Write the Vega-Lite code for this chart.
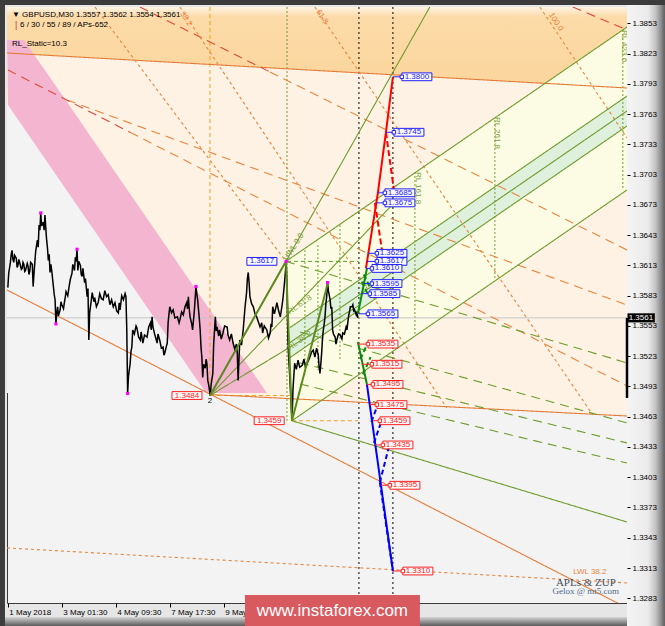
{
"$schema":"https://vega.github.io/schema/vega-lite/v6.json",
"width":620,"height":596,
"autosize":{"type":"none"},
"padding":{"left":7,"top":7,"right":38,"bottom":23},
"background":"#e6e6e6",
"config":{"view":{"fill":"#f3f3f3","stroke":"#3a3a3a","strokeWidth":1},"text":{"font":"Liberation Sans"}},
"datasets":{
"reg":[
{"g":"orange","b":0,"p":1.38692,"p2":1.38236},{"g":"orange","b":735,"p":1.38692,"p2":1.37889},
{"g":"salmon","b":638,"p":1.37934,"p2":1.37934},{"g":"salmon","b":735,"p":1.38493,"p2":1.37889},
{"g":"cream","b":0,"p":1.38236,"p2":1.34961},{"g":"cream","b":735,"p":1.37889,"p2":1.34637},
{"g":"yellow","b":331.9,"p":1.36171,"p2":1.34554},{"g":"yellow","b":735,"p":1.38493,"p2":1.36877},
{"g":"band","b":335.4,"p":1.35513,"p2":1.35216},{"g":"band","b":735,"p":1.37809,"p2":1.37512}
],
"hreg":[
{"g":"gray","p":1.3772,"b":0,"b2":1.2},{"g":"gray","p":1.34865,"b":0,"b2":235.9},
{"g":"pink","p":1.38364,"b":0,"b2":20.1},{"g":"pink","p":1.3772,"b":1.2,"b2":73.5},{"g":"pink","p":1.34865,"b":235.9,"b2":308.2}
],
"segs":[
{"g":"oSolid","id":"A","b":0,"p":1.38236},{"g":"oSolid","id":"A","b":735,"p":1.37889},
{"g":"oSolid","id":"B","b":240.6,"p":1.3485},{"g":"oSolid","id":"B","b":735,"p":1.34637},
{"g":"oSolid","id":"C","b":0,"p":1.35886},{"g":"oSolid","id":"C","b":735,"p":1.32734},
{"g":"oDash","id":"L1o","b":145.8,"p":1.3745},{"g":"oDash","id":"L1o","b":735,"p":1.34935},
{"g":"oDash","id":"L2o","b":311.7,"p":1.38048},{"g":"oDash","id":"L2o","b":735,"p":1.36283},
{"g":"oDash","id":"L3","b":71.1,"p":1.3777},{"g":"oDash","id":"L3","b":735,"p":1.35738},
{"g":"rDash","id":"L1r","b":1.2,"p":1.38067},{"g":"rDash","id":"L1r","b":145.8,"p":1.3745},
{"g":"rDash","id":"L2r","b":157.6,"p":1.38692},{"g":"rDash","id":"L2r","b":311.7,"p":1.38048},
{"g":"rDash","id":"L5","b":670.8,"p":1.38692},{"g":"rDash","id":"L5","b":735,"p":1.38464},
{"g":"oDot","id":"D1","b":104.3,"p":1.38692},{"g":"oDot","id":"D1","b":330.7,"p":1.3617},
{"g":"oDot","id":"D2","b":205,"p":1.38692},{"g":"oDot","id":"D2","b":521.5,"p":1.34716},
{"g":"oDot","id":"D3","b":365,"p":1.38692},{"g":"oDot","id":"D3","b":694.5,"p":1.34647},
{"g":"oDot","id":"D4","b":631.7,"p":1.38692},{"g":"oDot","id":"D4","b":735,"p":1.37393},
{"g":"oDot","id":"LWL","b":0,"p":1.33329},{"g":"oDot","id":"LWL","b":735,"p":1.32982},
{"g":"gSolid","id":"S1","b":240.6,"p":1.3484},{"g":"gSolid","id":"S1","b":501.3,"p":1.38692},
{"g":"gSolid","id":"S2","b":240.6,"p":1.3484},{"g":"gSolid","id":"S2","b":459.9,"p":1.36759},
{"g":"gSolid","id":"S3","b":240.6,"p":1.3484},{"g":"gSolid","id":"S3","b":418.4,"p":1.35738},
{"g":"gSolid","id":"U","b":330.7,"p":1.3617},{"g":"gSolid","id":"U","b":735,"p":1.38493},
{"g":"gSolid","id":"Lo","b":337.8,"p":1.3459},{"g":"gSolid","id":"Lo","b":735,"p":1.36878},
{"g":"gSolid","id":"BU","b":335.4,"p":1.35513},{"g":"gSolid","id":"BU","b":735,"p":1.37809},
{"g":"gSolid","id":"BM","b":335.4,"p":1.35365},{"g":"gSolid","id":"BM","b":735,"p":1.37661},
{"g":"gSolid","id":"BL","b":335.4,"p":1.35216},{"g":"gSolid","id":"BL","b":735,"p":1.37512},
{"g":"gSolid","id":"GS","b":337.8,"p":1.3459},{"g":"gSolid","id":"GS","b":735,"p":1.33586},
{"g":"gDash","id":"GD1","b":330.7,"p":1.3617},{"g":"gDash","id":"GD1","b":735,"p":1.35163},
{"g":"gDash","id":"GD2","b":347.3,"p":1.3547},{"g":"gDash","id":"GD2","b":735,"p":1.34568},
{"g":"gDash","id":"GD3","b":347.3,"p":1.35163},{"g":"gDash","id":"GD3","b":735,"p":1.3437},
{"g":"gDash","id":"GD4","b":347.3,"p":1.34954},{"g":"gDash","id":"GD4","b":735,"p":1.34171}
],
"segs2":[
{"g":"zup","id":"Z","b":240.6,"p":1.3484},{"g":"zup","id":"Z","b":330.7,"p":1.3617},{"g":"zup","id":"Z","b":337.8,"p":1.3459},{"g":"zup","id":"Z","b":380.5,"p":1.3596},
{"g":"fRed","id":"R1","b":425.5,"p":1.361},{"g":"fRed","id":"R1","b":439.7,"p":1.3685},{"g":"fRed","id":"R1","b":449.2,"p":1.3745},{"g":"fRed","id":"R1","b":457.5,"p":1.38},
{"g":"fRedD","id":"RD1","b":449.2,"p":1.3745},{"g":"fRedD","id":"RD1","b":458.7,"p":1.3688},
{"g":"fRedD","id":"RD2","b":436.2,"p":1.3675},{"g":"fRedD","id":"RD2","b":445.6,"p":1.3622},
{"g":"fGreen","id":"G1","b":416,"p":1.3565},{"g":"fGreen","id":"G1","b":426.7,"p":1.361},
{"g":"fGreen","id":"G2","b":416,"p":1.3537},{"g":"fGreen","id":"G2","b":426.7,"p":1.3495},
{"g":"fGreenD","id":"GD1","b":420.7,"p":1.3597},{"g":"fGreenD","id":"GD1","b":429,"p":1.3582},
{"g":"fGreenD","id":"GD2","b":423,"p":1.3604},{"g":"fGreenD","id":"GD2","b":431,"p":1.359},
{"g":"fGreenD","id":"GD3","b":419,"p":1.352},{"g":"fGreenD","id":"GD3","b":428,"p":1.3537},
{"g":"fGreenD","id":"GD4","b":422,"p":1.3505},{"g":"fGreenD","id":"GD4","b":431,"p":1.3522},
{"g":"fBlue","id":"B1","b":426.7,"p":1.3495},{"g":"fBlue","id":"B1","b":457.5,"p":1.331},
{"g":"fBlueD","id":"BD1","b":432,"p":1.3458},{"g":"fBlueD","id":"BD1","b":440,"p":1.3476},
{"g":"fBlueD","id":"BD2","b":435,"p":1.3437},{"g":"fBlueD","id":"BD2","b":444.5,"p":1.346},
{"g":"fBlueD","id":"BD3","b":442,"p":1.3398},{"g":"fBlueD","id":"BD3","b":452.7,"p":1.3433},
{"g":"fBlueD","id":"BD4","b":442,"p":1.3398},{"g":"fBlueD","id":"BD4","b":457.5,"p":1.331}
],
"vr":[
{"g":"yDash","b":240.6,"p":1.38692,"p2":1.3484},
{"g":"gDot","b":331.9,"p":1.38692,"p2":1.3459},
{"g":"kDot","b":417.2,"p":1.38692,"p2":1.32783},
{"g":"kDot","b":457.5,"p":1.38692,"p2":1.32783},
{"g":"gDot","b":353.2,"p":1.36283,"p2":1.35044},
{"g":"gDot","b":368.6,"p":1.36332,"p2":1.35093},
{"g":"gDot","b":394.7,"p":1.3653,"p2":1.35192},
{"g":"gDot","b":483.6,"p":1.37056,"p2":1.3543},
{"g":"gDot","b":578.4,"p":1.37571,"p2":1.36005},
{"g":"gDot","b":730.1,"p":1.38464,"p2":1.36878}
],
"hr":[
{"g":"gray","b":0,"b2":735,"p":1.3561},
{"g":"yDash","b":240.6,"b2":335.4,"p":1.3484},
{"g":"yDash","b":337.8,"b2":416,"p":1.3459},
{"g":"gShort","b":331.9,"b2":417,"p":1.3617}
],
"px":[
{"b":1,"p":1.3591},{"b":2,"p":1.3605},{"b":4,"p":1.3616},{"b":5,"p":1.3624},{"b":6,"p":1.3628},{"b":7,"p":1.3619},{"b":8,"p":1.3616},{"b":9,"p":1.3623},{"b":11,"p":1.362},{"b":12,"p":1.3611},{"b":13,"p":1.3613},{"b":14,"p":1.3619},{"b":15,"p":1.3616},{"b":17,"p":1.3609},{"b":18,"p":1.361},{"b":19,"p":1.3616},{"b":20,"p":1.3614},{"b":21,"p":1.3607},{"b":22,"p":1.3608},{"b":24,"p":1.3615},{"b":25,"p":1.3612},{"b":26,"p":1.3604},{"b":27,"p":1.3607},{"b":28,"p":1.3616},{"b":30,"p":1.3614},{"b":31,"p":1.3592},{"b":32,"p":1.3605},{"b":33,"p":1.3616},{"b":34,"p":1.3627},{"b":36,"p":1.3638},{"b":37,"p":1.3631},{"b":38,"p":1.3653},{"b":39,"p":1.3648},{"b":40,"p":1.3665},{"b":41,"p":1.3652},{"b":43,"p":1.3656},{"b":44,"p":1.3648},{"b":45,"p":1.3663},{"b":46,"p":1.365},{"b":47,"p":1.3638},{"b":48,"p":1.363},{"b":49,"p":1.3618},{"b":50,"p":1.3624},{"b":51,"p":1.3606},{"b":52,"p":1.3614},{"b":53,"p":1.3608},{"b":54,"p":1.36},{"b":55,"p":1.3592},{"b":56,"p":1.3584},{"b":57,"p":1.3579},{"b":58,"p":1.3555},{"b":59,"p":1.3566},{"b":60,"p":1.3572},{"b":61,"p":1.3563},{"b":63,"p":1.3569},{"b":64,"p":1.3577},{"b":65,"p":1.3574},{"b":67,"p":1.357},{"b":68,"p":1.3576},{"b":69,"p":1.3581},{"b":70,"p":1.3587},{"b":72,"p":1.3583},{"b":74,"p":1.3594},{"b":75,"p":1.3599},{"b":77,"p":1.3605},{"b":78,"p":1.3614},{"b":80,"p":1.3608},{"b":81,"p":1.3621},{"b":82,"p":1.3617},{"b":83,"p":1.3629},{"b":84,"p":1.3608},{"b":85,"p":1.3617},{"b":87,"p":1.3613},{"b":88,"p":1.3604},{"b":89,"p":1.3602},{"b":90,"p":1.361},{"b":92,"p":1.3596},{"b":93,"p":1.36},{"b":95,"p":1.3582},{"b":96,"p":1.359},{"b":97,"p":1.3539},{"b":98,"p":1.3566},{"b":100,"p":1.3579},{"b":101,"p":1.3586},{"b":103,"p":1.3577},{"b":104,"p":1.3581},{"b":106,"p":1.3572},{"b":108,"p":1.3576},{"b":110,"p":1.3585},{"b":112,"p":1.358},{"b":114,"p":1.3579},{"b":116,"p":1.3588},{"b":118,"p":1.3582},{"b":120,"p":1.3584},{"b":122,"p":1.3574},{"b":124,"p":1.3579},{"b":126,"p":1.3572},{"b":128,"p":1.3576},{"b":130,"p":1.3568},{"b":132,"p":1.3566},{"b":133,"p":1.3576},{"b":134,"p":1.3569},{"b":136,"p":1.3583},{"b":138,"p":1.3579},{"b":140,"p":1.3585},{"b":141,"p":1.3582},{"b":142,"p":1.3549},{"b":143,"p":1.3486},{"b":144,"p":1.3503},{"b":146,"p":1.3516},{"b":147,"p":1.3528},{"b":148,"p":1.3532},{"b":149,"p":1.3549},{"b":151,"p":1.3545},{"b":153,"p":1.3553},{"b":154,"p":1.3551},{"b":156,"p":1.3542},{"b":158,"p":1.3539},{"b":159,"p":1.3547},{"b":161,"p":1.3536},{"b":163,"p":1.3544},{"b":166,"p":1.3542},{"b":168,"p":1.3552},{"b":170,"p":1.3556},{"b":171,"p":1.3549},{"b":172,"p":1.3562},{"b":173,"p":1.3552},{"b":175,"p":1.3545},{"b":178,"p":1.3536},{"b":179,"p":1.3545},{"b":181,"p":1.3539},{"b":183,"p":1.3531},{"b":185,"p":1.3532},{"b":186,"p":1.3524},{"b":187,"p":1.3526},{"b":189,"p":1.3533},{"b":190,"p":1.3536},{"b":191,"p":1.3556},{"b":192,"p":1.3565},{"b":193,"p":1.3572},{"b":195,"p":1.3566},{"b":197,"p":1.3569},{"b":199,"p":1.3561},{"b":202,"p":1.3562},{"b":204,"p":1.3556},{"b":205,"p":1.3559},{"b":207,"p":1.3567},{"b":209,"p":1.3564},{"b":211,"p":1.3572},{"b":213,"p":1.3576},{"b":214,"p":1.357},{"b":215,"p":1.3582},{"b":216,"p":1.357},{"b":217,"p":1.3562},{"b":219,"p":1.3555},{"b":220,"p":1.3549},{"b":222,"p":1.3567},{"b":224,"p":1.3592},{"b":225,"p":1.3585},{"b":226,"p":1.3579},{"b":228,"p":1.356},{"b":229,"p":1.3549},{"b":230,"p":1.3532},{"b":231,"p":1.3522},{"b":232,"p":1.3502},{"b":233,"p":1.3515},{"b":235,"p":1.3511},{"b":236,"p":1.352},{"b":237,"p":1.3516},{"b":238,"p":1.3499},{"b":239,"p":1.3495},{"b":241,"p":1.3484},{"b":242,"p":1.3495},{"b":244,"p":1.3506},{"b":245,"p":1.3535},{"b":247,"p":1.3562},{"b":248,"p":1.3548},{"b":249,"p":1.3552},{"b":251,"p":1.3543},{"b":252,"p":1.3549},{"b":254,"p":1.354},{"b":256,"p":1.3546},{"b":258,"p":1.3553},{"b":261,"p":1.3552},{"b":262,"p":1.3544},{"b":264,"p":1.3539},{"b":266,"p":1.3545},{"b":268,"p":1.3536},{"b":270,"p":1.353},{"b":272,"p":1.3535},{"b":273,"p":1.3526},{"b":274,"p":1.3499},{"b":275,"p":1.352},{"b":276,"p":1.3539},{"b":278,"p":1.3534},{"b":280,"p":1.3549},{"b":282,"p":1.357},{"b":284,"p":1.3586},{"b":285,"p":1.36},{"b":286,"p":1.3606},{"b":287,"p":1.3596},{"b":288,"p":1.3582},{"b":290,"p":1.3575},{"b":292,"p":1.3572},{"b":294,"p":1.3565},{"b":296,"p":1.3562},{"b":298,"p":1.3557},{"b":300,"p":1.3552},{"b":302,"p":1.3556},{"b":303,"p":1.3546},{"b":305,"p":1.3553},{"b":308,"p":1.3549},{"b":310,"p":1.3541},{"b":312,"p":1.3546},{"b":313,"p":1.3555},{"b":314,"p":1.3552},{"b":315,"p":1.3572},{"b":317,"p":1.3565},{"b":320,"p":1.3576},{"b":322,"p":1.3568},{"b":324,"p":1.3562},{"b":326,"p":1.3573},{"b":327,"p":1.3579},{"b":329,"p":1.3596},{"b":330,"p":1.3606},{"b":331,"p":1.3617},{"b":332,"p":1.3589},{"b":333,"p":1.3539},{"b":334,"p":1.352},{"b":335,"p":1.3506},{"b":336,"p":1.349},{"b":337,"p":1.3472},{"b":338,"p":1.3459},{"b":339,"p":1.349},{"b":341,"p":1.3516},{"b":343,"p":1.351},{"b":345,"p":1.3519},{"b":347,"p":1.3512},{"b":350,"p":1.3514},{"b":352,"p":1.352},{"b":354,"p":1.3512},{"b":356,"p":1.3516},{"b":359,"p":1.3522},{"b":361,"p":1.3527},{"b":363,"p":1.3529},{"b":365,"p":1.3522},{"b":367,"p":1.3531},{"b":369,"p":1.3524},{"b":370,"p":1.3512},{"b":371,"p":1.3506},{"b":372,"p":1.3515},{"b":373,"p":1.3526},{"b":374,"p":1.354},{"b":375,"p":1.3549},{"b":376,"p":1.3555},{"b":377,"p":1.3562},{"b":378,"p":1.3575},{"b":379,"p":1.3582},{"b":380,"p":1.3596},{"b":381,"p":1.3588},{"b":383,"p":1.3579},{"b":384,"p":1.357},{"b":385,"p":1.3572},{"b":386,"p":1.3549},{"b":387,"p":1.3545},{"b":389,"p":1.3542},{"b":390,"p":1.3535},{"b":391,"p":1.3539},{"b":393,"p":1.3545},{"b":395,"p":1.3544},{"b":397,"p":1.354},{"b":398,"p":1.3546},{"b":400,"p":1.3545},{"b":402,"p":1.3552},{"b":403,"p":1.3549},{"b":404,"p":1.3556},{"b":405,"p":1.3563},{"b":406,"p":1.3567},{"b":407,"p":1.3572},{"b":409,"p":1.3572},{"b":410,"p":1.3574},{"b":411,"p":1.3568},{"b":412,"p":1.3569},{"b":414,"p":1.3564},{"b":415,"p":1.3567},{"b":416,"p":1.3561}
],
"mg":[{"b":40,"p":1.3665},{"b":58,"p":1.3555},{"b":83,"p":1.3629},{"b":143,"p":1.3486},{"b":224,"p":1.3592},{"b":331,"p":1.3617},{"b":380,"p":1.3596}],
"lv":[
{"t":"1.3617","p":1.3617,"b":284.4,"cx":null,"s":"u"},
{"t":"1.3484","p":1.3484,"b":195.6,"cx":null,"s":"d"},
{"t":"1.3459","p":1.3459,"b":293,"cx":null,"s":"d"},
{"t":"1.3800","p":1.38,"b":468.1,"cx":457.5,"s":"u"},
{"t":"1.3745","p":1.3745,"b":458.7,"cx":449.2,"s":"u"},
{"t":"1.3685","p":1.3685,"b":448,"cx":439.7,"s":"u"},
{"t":"1.3675","p":1.3675,"b":448,"cx":437.3,"s":"u"},
{"t":"1.3625","p":1.3625,"b":438.5,"cx":427.9,"s":"u"},
{"t":"1.3617","p":1.3617,"b":438.5,"cx":426.7,"s":"u"},
{"t":"1.3610","p":1.361,"b":432.6,"cx":425.5,"s":"u"},
{"t":"1.3595","p":1.3595,"b":432.6,"cx":423.1,"s":"u"},
{"t":"1.3585","p":1.3585,"b":430.2,"cx":420.7,"s":"u"},
{"t":"1.3565","p":1.3565,"b":427.9,"cx":417.2,"s":"u"},
{"t":"1.3535","p":1.3535,"b":427.9,"cx":416,"s":"d"},
{"t":"1.3515","p":1.3515,"b":432.6,"cx":420.7,"s":"d"},
{"t":"1.3495","p":1.3495,"b":433.8,"cx":426.7,"s":"d"},
{"t":"1.3475","p":1.3475,"b":438.5,"cx":430.2,"s":"d"},
{"t":"1.3459","p":1.3459,"b":442.1,"cx":433.8,"s":"d"},
{"t":"1.3435","p":1.3435,"b":445.6,"cx":436.2,"s":"d"},
{"t":"1.3395","p":1.3395,"b":453.9,"cx":443.3,"s":"d"},
{"t":"1.3310","p":1.331,"b":469.3,"cx":457.5,"s":"d"}
],
"tx":[
{"k":"h","t":"▼ GBPUSD,M30  1.3557 1.3562 1.3554 1.3561","b":5.9,"p":1.38612},
{"k":"hr","t":"|","b":9.5,"p":1.38513},
{"k":"h","t":"6 / 30 / 55 / 89 / APs-652","b":15.4,"p":1.38513},
{"k":"h","t":"RL_Static=10.3","b":5.9,"p":1.38325},
{"k":"fib","t":"38.2","b":212.1,"p":1.38573},
{"k":"fib","t":"61.8","b":373.3,"p":1.38593},
{"k":"fib","t":"100.0","b":650.7,"p":1.38543},
{"k":"rl","t":"RL 161.8","b":487.1,"p":1.36897},
{"k":"rl","t":"RL 261.8","b":580.7,"p":1.37443},
{"k":"rl","t":"RL 423.6","b":731.3,"p":1.38305},
{"k":"rlb","t":"RL 61.8","b":347.3,"p":1.35738},
{"k":"rlb","t":"RL 38.2","b":347.3,"p":1.35381},
{"k":"uwl","t":"UWL 0.0","b":340.2,"p":1.36312},
{"k":"lwl","t":"LWL 38.2","b":690.9,"p":1.33091},
{"k":"piv","t":"2","b":240.6,"p":1.34786},
{"k":"sig1","t":"APLs & ZUP","b":686.2,"p":1.32981},
{"k":"sig2","t":"Gelox @ mt5.com","b":686.2,"p":1.32902},
{"k":"web","t":"www.instaforex.com","b":385.8,"p":1.32704},
{"k":"pb","t":"1.3561","b":737,"p":1.3561}
],
"dc":[
{"k":"right","b":735,"b2":780,"p":1.38761,"p2":1.32555},
{"k":"bottom","b":-9,"b2":735,"p":1.32645,"p2":1.32555},
{"k":"top","b":-9,"b2":780,"p":1.38761,"p2":1.38711},
{"k":"left","b":-9,"b2":-2.4,"p":1.38761,"p2":1.32555},
{"k":"banner","b":282.1,"b2":489.5,"p":1.32863,"p2":1.32555},
{"k":"pbox","b":735.6,"b2":768,"p":1.35655,"p2":1.35565}
],
"edge":[{"b":735,"p":1.3561,"p2":1.34816}]
},
"encoding":{
"x":{"field":"b","type":"quantitative","title":null,"scale":{"domain":[0,735],"nice":false,"zero":false},
 "axis":{"values":[1,65,129,193,257],"labelExpr":"datum.value==1?'1 May 2018':datum.value==65?'3 May 01:30':datum.value==129?'4 May 09:30':datum.value==193?'7 May 17:30':'9 May 01:30'","labelAlign":"left","labelBaseline":"top","labelFont":"Liberation Sans","labelFontSize":8,"labelColor":"#000","tickColor":"#000","tickSize":4,"labelPadding":1,"labelOffset":1,"domain":false,"grid":false,"labelFlush":false,"labelOverlap":false,"labelBound":false,"zindex":0}},
"y":{"field":"p","type":"quantitative","title":null,"scale":{"domain":[1.32783,1.38692],"nice":false,"zero":false},
 "axis":{"orient":"right","values":[1.3853,1.3823,1.3793,1.3763,1.3733,1.3703,1.3673,1.3643,1.3613,1.3583,1.3553,1.3523,1.3493,1.3463,1.3433,1.3403,1.3373,1.3343,1.3313,1.3283],"format":".4f","labelFont":"Liberation Sans","labelFontSize":8,"labelColor":"#000","tickColor":"#000","tickSize":3,"labelPadding":2,"domain":false,"grid":false,"labelOverlap":false,"labelFlush":false,"labelBound":false,"zindex":1}}
},
"layer":[
{"data":{"name":"reg"},"transform":[{"filter":"datum.g=='orange'"}],"mark":{"type":"area","clip":true,"color":{"gradient":"linear","x1":0,"y1":0,"x2":0,"y2":1,"stops":[{"offset":0,"color":"#fef3e4"},{"offset":0.12,"color":"#fcdba8"},{"offset":1,"color":"#fbd59c"}]}},"encoding":{"y2":{"field":"p2"}}},
{"data":{"name":"reg"},"transform":[{"filter":"datum.g=='salmon'"}],"mark":{"type":"area","clip":true,"color":"#f8c6a4"},"encoding":{"y2":{"field":"p2"}}},
{"data":{"name":"reg"},"transform":[{"filter":"datum.g=='cream'"}],"mark":{"type":"area","clip":true,"color":"#fdf2e3"},"encoding":{"y2":{"field":"p2"}}},
{"data":{"name":"hreg"},"transform":[{"filter":"datum.g=='gray'"}],"mark":{"type":"area","orient":"horizontal","clip":true,"color":"#f3f3f3"},"encoding":{"x2":{"field":"b2"}}},
{"data":{"name":"hreg"},"transform":[{"filter":"datum.g=='pink'"}],"mark":{"type":"area","orient":"horizontal","clip":true,"color":"#f4b5d1"},"encoding":{"x2":{"field":"b2"}}},
{"data":{"name":"reg"},"transform":[{"filter":"datum.g=='yellow'"}],"mark":{"type":"area","clip":true,"color":"#fcfce5"},"encoding":{"y2":{"field":"p2"}}},
{"data":{"name":"reg"},"transform":[{"filter":"datum.g=='band'"}],"mark":{"type":"area","clip":true,"color":"#dff0dc"},"encoding":{"y2":{"field":"p2"}}},
{"data":{"name":"vr"},"mark":{"type":"rule","clip":true,"strokeWidth":1},"encoding":{"y2":{"field":"p2"},
 "color":{"field":"g","type":"nominal","legend":null,"scale":{"domain":["oSolid","oDash","rDash","oDot","yDash","gSolid","gDash","gDot","gShort","kDot","zup","gray","fRed","fRedD","fGreen","fGreenD","fBlue","fBlueD"],"range":["#e67b37","#e8853d","#e0483a","#e8853d","#f5a21f","#6e9c2b","#6e9c2b","#6e9c2b","#5e9a2a","#000000","#5b8a1e","#c6c6c6","#ff0000","#ff0000","#0a8a0a","#0a8a0a","#0000ff","#0000ff"]}},
 "strokeDash":{"field":"g","type":"nominal","legend":null,"scale":{"domain":["oSolid","oDash","rDash","oDot","yDash","gSolid","gDash","gDot","gShort","kDot","zup","gray","fRed","fRedD","fGreen","fGreenD","fBlue","fBlueD"],"range":[[1,0],[9,6],[9,6],[3,3],[4,3],[1,0],[9,6],[2,2],[4,3],[2,3],[1,0],[1,0],[1,0],[6,3],[1,0],[5,3],[1,0],[5,3]]}}}},
{"data":{"name":"hr"},"mark":{"type":"rule","clip":true,"strokeWidth":1},"encoding":{"x2":{"field":"b2"},"color":{"field":"g","type":"nominal","legend":null},"strokeDash":{"field":"g","type":"nominal","legend":null}}},
{"data":{"name":"segs"},"mark":{"type":"line","clip":true,"strokeWidth":1.1},"encoding":{"detail":{"field":"id"},"color":{"field":"g","type":"nominal","legend":null},"strokeDash":{"field":"g","type":"nominal","legend":null}}},
{"data":{"name":"px"},"mark":{"type":"line","clip":true,"color":"#000000","strokeWidth":1.5}},
{"data":{"name":"segs2"},"mark":{"type":"line","clip":true,"strokeWidth":2},"encoding":{"detail":{"field":"id"},"color":{"field":"g","type":"nominal","legend":null},"strokeDash":{"field":"g","type":"nominal","legend":null}}},
{"data":{"name":"mg"},"mark":{"type":"point","shape":"square","filled":true,"color":"#ff00ff","size":10,"opacity":1}},
{"data":{"name":"lv"},"transform":[{"filter":"datum.cx != null"}],"mark":{"type":"rule","strokeWidth":1},"encoding":{"x":{"field":"cx","type":"quantitative","title":null},"x2":{"field":"b"},"stroke":{"field":"s","type":"nominal","legend":null,"scale":{"domain":["u","d"],"range":["#2020ff","#ff2020"]}}}},
{"data":{"name":"lv"},"mark":{"type":"point","shape":"M-1,-0.26H1V0.26H-1Z","size":900,"xOffset":15,"filled":false,"fill":"#fbfbfb","fillOpacity":1,"strokeWidth":1,"opacity":1},"encoding":{"stroke":{"field":"s","type":"nominal","legend":null}}},
{"data":{"name":"lv"},"transform":[{"filter":"datum.cx != null"}],"mark":{"type":"point","shape":"square","size":12,"filled":false,"fill":"#ffffff","fillOpacity":1,"strokeWidth":1,"opacity":1},"encoding":{"stroke":{"field":"s","type":"nominal","legend":null}}},
{"data":{"name":"lv"},"mark":{"type":"text","align":"center","baseline":"middle","dx":15,"fontSize":8},"encoding":{"text":{"field":"t"},"fill":{"field":"s","type":"nominal","legend":null,"scale":{"domain":["u","d"],"range":["#1818ff","#ff1818"]}}}},
{"data":{"name":"tx"},"transform":[{"filter":"datum.k=='h'"}],"mark":{"type":"text","align":"left","baseline":"middle","fontSize":8,"color":"#000000"},"encoding":{"text":{"field":"t"}}},
{"data":{"name":"tx"},"transform":[{"filter":"datum.k=='hr'"}],"mark":{"type":"text","align":"left","baseline":"middle","fontSize":9,"color":"#e0302a"},"encoding":{"text":{"field":"t"}}},
{"data":{"name":"tx"},"transform":[{"filter":"datum.k=='fib'"}],"mark":{"type":"text","align":"center","baseline":"middle","fontSize":8,"angle":56,"color":"#e8853d"},"encoding":{"text":{"field":"t"}}},
{"data":{"name":"tx"},"transform":[{"filter":"datum.k=='rl'"}],"mark":{"type":"text","align":"center","baseline":"middle","fontSize":8,"angle":90,"color":"#7a9c36"},"encoding":{"text":{"field":"t"}}},
{"data":{"name":"tx"},"transform":[{"filter":"datum.k=='rlb'"}],"mark":{"type":"text","align":"center","baseline":"middle","fontSize":8,"angle":-35,"color":"#7a9c36"},"encoding":{"text":{"field":"t"}}},
{"data":{"name":"tx"},"transform":[{"filter":"datum.k=='uwl'"}],"mark":{"type":"text","align":"center","baseline":"middle","fontSize":8,"angle":-57,"color":"#7a9c36"},"encoding":{"text":{"field":"t"}}},
{"data":{"name":"tx"},"transform":[{"filter":"datum.k=='lwl'"}],"mark":{"type":"text","align":"center","baseline":"middle","fontSize":8,"color":"#e8853d"},"encoding":{"text":{"field":"t"}}},
{"data":{"name":"tx"},"transform":[{"filter":"datum.k=='piv'"}],"mark":{"type":"text","align":"center","baseline":"middle","fontSize":8,"color":"#000000"},"encoding":{"text":{"field":"t"}}},
{"data":{"name":"tx"},"transform":[{"filter":"datum.k=='sig1'"}],"mark":{"type":"text","align":"center","baseline":"middle","fontSize":11,"font":"Liberation Serif","color":"#41505e"},"encoding":{"text":{"field":"t"}}},
{"data":{"name":"tx"},"transform":[{"filter":"datum.k=='sig2'"}],"mark":{"type":"text","align":"center","baseline":"middle","fontSize":9,"font":"Liberation Serif","color":"#4d6b8a"},"encoding":{"text":{"field":"t"}}},
{"data":{"name":"dc"},"transform":[{"filter":"datum.k=='right'"}],"mark":{"type":"rect","clip":false,"color":{"gradient":"linear","x1":0,"y1":0,"x2":1,"y2":0,"stops":[{"offset":0,"color":"#f4f4f4"},{"offset":0.55,"color":"#ebebeb"},{"offset":0.75,"color":"#c4c4c4"},{"offset":0.9,"color":"#8c8c8c"},{"offset":1,"color":"#5a5a5a"}]}},"encoding":{"x2":{"field":"b2"},"y2":{"field":"p2"}}},
{"data":{"name":"dc"},"transform":[{"filter":"datum.k=='bottom'"}],"mark":{"type":"rect","clip":false,"color":{"gradient":"linear","x1":0,"y1":0,"x2":0,"y2":1,"stops":[{"offset":0,"color":"#d6d6d6"},{"offset":1,"color":"#5a5a5a"}]}},"encoding":{"x2":{"field":"b2"},"y2":{"field":"p2"}}},
{"data":{"name":"dc"},"transform":[{"filter":"datum.k=='top' || datum.k=='left'"}],"mark":{"type":"rect","clip":false,"color":"#3c3c3c"},"encoding":{"x2":{"field":"b2"},"y2":{"field":"p2"}}},
{"data":{"name":"dc"},"transform":[{"filter":"datum.k=='banner'"}],"mark":{"type":"rect","clip":false,"color":"#d85a5f"},"encoding":{"x2":{"field":"b2"},"y2":{"field":"p2"}}},
{"data":{"name":"dc"},"transform":[{"filter":"datum.k=='pbox'"}],"mark":{"type":"rect","clip":false,"color":"#000000"},"encoding":{"x2":{"field":"b2"},"y2":{"field":"p2"}}},
{"data":{"name":"edge"},"mark":{"type":"rule","clip":false,"color":"#000000","strokeWidth":2.5},"encoding":{"y2":{"field":"p2"}}},
{"data":{"name":"tx"},"transform":[{"filter":"datum.k=='web'"}],"mark":{"type":"text","align":"center","baseline":"middle","fontSize":17,"color":"#ffffff"},"encoding":{"text":{"field":"t"}}},
{"data":{"name":"tx"},"transform":[{"filter":"datum.k=='pb'"}],"mark":{"type":"text","align":"left","baseline":"middle","fontSize":8,"color":"#ffffff"},"encoding":{"text":{"field":"t"}}}
]
}
